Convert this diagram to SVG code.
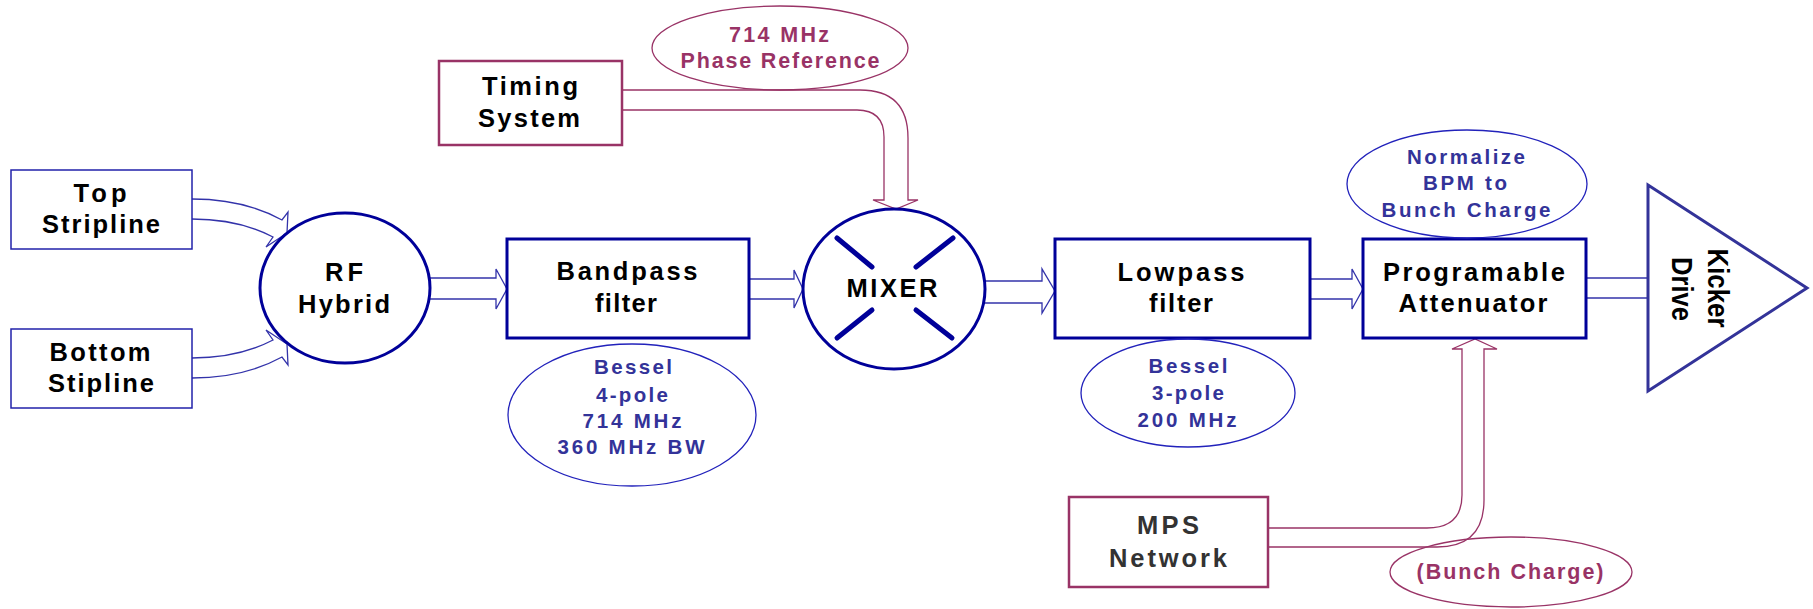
<svg xmlns="http://www.w3.org/2000/svg" width="1813" height="609" viewBox="0 0 1813 609">
<style>
text{font-family:"Liberation Sans",Arial,sans-serif;font-weight:bold;text-anchor:middle}
.lbl{font-size:25.5px;fill:#000}
.blu{font-size:20.5px;fill:#333399}
.mar{font-size:21.5px;fill:#993366}
.gry{font-size:25.5px;fill:#333}
.box{fill:#fff;stroke:#000099;stroke-width:3}
.thinbox{fill:#fff;stroke:#2222aa;stroke-width:1.5}
.mbox{fill:#fff;stroke:#993366;stroke-width:2.5}
.callout{fill:none;stroke:#2222bb;stroke-width:1.3}
.mcallout{fill:none;stroke:#993366;stroke-width:1.3}
.arr{fill:#fff;stroke:#3333aa;stroke-width:1.3;stroke-linejoin:miter}
.marr{fill:#fff;stroke:#993366;stroke-width:1.3}
.x{stroke:#000099;stroke-width:5;stroke-linecap:round}
</style>
<g id="connectors">
<path class="arr" d="M192,199 C235,199 262,209 282,220 L288,212 L287,233 L266,247 L273,237 C252,226 228,219 192,219"/>
<path class="arr" d="M192,378 C235,378 262,368 282,357 L288,365 L287,344 L266,330 L273,340 C252,351 228,358 192,358"/>
<path class="arr" d="M429,278 L496,278 L496,269 L507,289 L496,309 L496,299 L429,299"/>
<path class="arr" d="M749,279 L794,279 L794,270 L803,289 L794,308 L794,299 L749,299"/>
<path class="arr" d="M985,281 L1042,281 L1042,269 L1055,291 L1042,313 L1042,303 L985,303"/>
<path class="arr" d="M1310,279 L1352,279 L1352,269 L1363,289 L1352,309 L1352,299 L1310,299"/>
<path class="arr" d="M1586,278 L1648,278 L1648,298 L1586,298"/>
<path class="marr" d="M622,90 L860,90 Q908,90 908,138 L908,200 L918,200 L896,209 L873,200 L884,200 L884,137 Q884,110 857,110 L622,110"/>
<path class="marr" d="M1268,528 L1427,528 Q1462,528 1462,495 L1462,349 L1452,349 L1475,339 L1497,349 L1484,349 L1484,500 Q1484,547 1437,547 L1268,547"/>
</g>
<g id="top-stripline">
<rect class="thinbox" x="11" y="170" width="181" height="79"/>
<text class="lbl" x="100" y="202" textLength="53">Top</text>
<text class="lbl" x="101" y="233" textLength="118">Stripline</text>
</g>
<g id="bottom-stipline">
<rect class="thinbox" x="11" y="329" width="181" height="79"/>
<text class="lbl" x="100" y="361" textLength="101">Bottom</text>
<text class="lbl" x="101" y="392" textLength="106">Stipline</text>
</g>
<g id="rf-hybrid">
<ellipse class="box" cx="345" cy="288" rx="85" ry="75"/>
<text class="lbl" x="344" y="281" textLength="38">RF</text>
<text class="lbl" x="344" y="313" textLength="92">Hybrid</text>
</g>
<g id="timing-system">
<rect class="mbox" x="439" y="61" width="183" height="84"/>
<text class="lbl" x="530" y="95" textLength="96">Timing</text>
<text class="lbl" x="529" y="127" textLength="102">System</text>
</g>
<g id="phase-reference">
<ellipse class="mcallout" cx="780" cy="48" rx="128" ry="42"/>
<text class="mar" x="779" y="42" textLength="100">714 MHz</text>
<text class="mar" x="780" y="68" textLength="199">Phase Reference</text>
</g>
<g id="bandpass-filter">
<rect class="box" x="507" y="239" width="242" height="99"/>
<text class="lbl" x="627" y="280" textLength="141">Bandpass</text>
<text class="lbl" x="626" y="312" textLength="62">filter</text>
</g>
<g id="bessel-4pole">
<ellipse class="callout" cx="632" cy="415" rx="124" ry="71"/>
<text class="blu" x="633" y="374" textLength="78">Bessel</text>
<text class="blu" x="632" y="402" textLength="72">4-pole</text>
<text class="blu" x="632" y="428" textLength="99">714 MHz</text>
<text class="blu" x="631" y="454" textLength="147">360 MHz BW</text>
</g>
<g id="mixer">
<ellipse class="box" cx="894" cy="289" rx="91" ry="80"/>
<line class="x" x1="837" y1="238" x2="872" y2="267"/>
<line class="x" x1="953" y1="238" x2="916" y2="267"/>
<line class="x" x1="837" y1="338" x2="872" y2="310"/>
<line class="x" x1="952" y1="338" x2="916" y2="310"/>
<text class="lbl" x="892" y="297" textLength="91">MIXER</text>
</g>
<g id="lowpass-filter">
<rect class="box" x="1055" y="239" width="255" height="99"/>
<text class="lbl" x="1181" y="281" textLength="127">Lowpass</text>
<text class="lbl" x="1181" y="312" textLength="64">filter</text>
</g>
<g id="bessel-3pole">
<ellipse class="callout" cx="1188" cy="393" rx="107" ry="54"/>
<text class="blu" x="1188" y="373" textLength="79">Bessel</text>
<text class="blu" x="1188" y="400" textLength="72">3-pole</text>
<text class="blu" x="1187" y="427" textLength="99">200 MHz</text>
</g>
<g id="programable-attenuator">
<rect class="box" x="1363" y="239" width="223" height="99"/>
<text class="lbl" x="1474" y="281" textLength="182">Programable</text>
<text class="lbl" x="1473" y="312" textLength="149">Attenuator</text>
</g>
<g id="normalize">
<ellipse class="callout" cx="1467" cy="184" rx="120" ry="54"/>
<text class="blu" x="1466" y="164" textLength="118">Normalize</text>
<text class="blu" x="1465" y="190" textLength="84">BPM to</text>
<text class="blu" x="1466" y="217" textLength="169">Bunch Charge</text>
</g>
<g id="kicker-drive">
<polygon points="1648,185 1648,391 1807,288" fill="#fff" stroke="#333399" stroke-width="3"/>
<text class="lbl" style="font-size:29px" transform="translate(1708,288) rotate(90)" textLength="79" lengthAdjust="spacingAndGlyphs">Kicker</text>
<text class="lbl" style="font-size:29px" transform="translate(1672,289) rotate(90)" textLength="64" lengthAdjust="spacingAndGlyphs">Drive</text>
</g>
<g id="mps-network">
<rect class="mbox" x="1069" y="497" width="199" height="90"/>
<text class="gry" x="1168" y="534" textLength="62">MPS</text>
<text class="gry" x="1168" y="567" textLength="118">Network</text>
</g>
<g id="bunch-charge">
<ellipse class="mcallout" cx="1511" cy="572" rx="121" ry="35"/>
<text class="mar" x="1510" y="579" textLength="187">(Bunch Charge)</text>
</g>
</svg>
